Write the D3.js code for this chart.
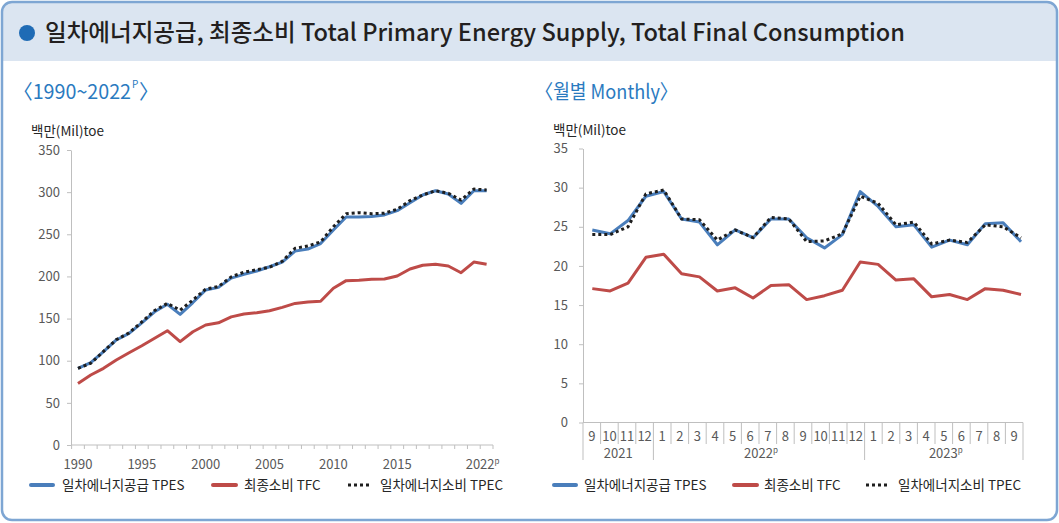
<!DOCTYPE html>
<html>
<head>
<meta charset="utf-8">
<script src="https://cdn.jsdelivr.net/npm/d3@7"></script>
<style>
    body { margin: 0; background: #fff; }
    svg { display: block; font-family: "Noto Sans CJK KR", "Liberation Sans", sans-serif; }
    .tick-label { font-size: 13px; fill: #595959; }
    .legend-label { font-size: 13.5px; fill: #262626; }
</style>
</head>
<body>
<svg id="chart" width="1059" height="523"></svg>
<script>
var years = [1990, 1991, 1992, 1993, 1994, 1995, 1996, 1997, 1998, 1999, 2000, 2001, 2002, 2003, 2004, 2005,
    2006, 2007, 2008, 2009, 2010, 2011, 2012, 2013, 2014, 2015, 2016, 2017, 2018, 2019, 2020, 2021, 2022];
var yearLabels = [1990, 1995, 2000, 2005, 2010, 2015];
var annualTPES = [91, 97.6, 110.7, 124.6, 132.5, 145, 158, 167, 155, 169, 184, 187, 198, 202.5, 206.4, 211.5,
    217, 230, 232.5, 239, 255, 270.5, 270.5, 271, 273, 278, 287.5, 296.6, 301.7, 297.8, 286.7, 301.7, 301.7];
var annualTFC = [73, 83, 91, 100.8, 109.5, 117.8, 126.6, 135.6, 122.6, 134.4, 142.4, 145, 152, 155.4, 157, 159.3,
    163.3, 168, 169.7, 170.5, 186, 195, 195.4, 196.6, 197, 200.5, 208.8, 213.2, 214.4, 212.4, 204.4, 217, 214.4];
var annualTPEC = [91, 97, 111, 125, 133, 146, 159.5, 168, 160, 172, 185, 188, 199.5, 205, 208, 211,
    218, 233.4, 236, 241, 259, 274.4, 275.6, 274.4, 275, 279.6, 290, 296.6, 301.7, 298.6, 290.6, 303.7, 302.5];
var annualTicks = [0, 50, 100, 150, 200, 250, 300, 350];

var months = ["2021-9", "2021-10", "2021-11", "2021-12", "2022-1", "2022-2", "2022-3", "2022-4", "2022-5",
    "2022-6", "2022-7", "2022-8", "2022-9", "2022-10", "2022-11", "2022-12", "2023-1", "2023-2", "2023-3",
    "2023-4", "2023-5", "2023-6", "2023-7", "2023-8", "2023-9"];
var monthGroups = [
    { label: "2021", sup: "", first: "2021-9", last: "2021-12" },
    { label: "2022", sup: "p", first: "2022-1", last: "2022-12" },
    { label: "2023", sup: "p", first: "2023-1", last: "2023-9" }
];
var monthlyTPES = [24.6, 24.1, 25.8, 28.9, 29.5, 26.0, 25.6, 22.7, 24.6, 23.6, 26.0, 26.0, 23.6, 22.3, 24.0,
    29.5, 27.6, 25.0, 25.25, 22.4, 23.3, 22.7, 25.4, 25.5, 23.1];
var monthlyTFC = [17.1, 16.8, 17.8, 21.1, 21.5, 19.0, 18.6, 16.8, 17.2, 15.9, 17.5, 17.6, 15.7, 16.2, 16.9,
    20.5, 20.2, 18.2, 18.35, 16.05, 16.35, 15.7, 17.1, 16.9, 16.35];
var monthlyTPEC = [24.0, 24.0, 25.0, 29.2, 29.7, 26.0, 25.9, 23.3, 24.6, 23.6, 26.2, 26.0, 23.1, 23.2, 24.1,
    28.9, 28.0, 25.25, 25.6, 22.8, 23.3, 23.0, 25.25, 25.0, 23.6];
var monthlyTicks = [0, 5, 10, 15, 20, 25, 30, 35];

var seriesStyle = [
    { name: "일차에너지공급 TPES", color: "#4a7ebb", dash: null },
    { name: "최종소비 TFC", color: "#be4b48", dash: null },
    { name: "일차에너지소비 TPEC", color: "#1e1e1e", dash: "3,3" }
];

var svg = d3.select("#chart");
var axisColor = "#bfbfbf";

// frame + title bar
svg.append("path")
    .attr("d", "M2,58 L2,12 Q2,2 12,2 L1047,2 Q1057,2 1057,12 L1057,61 L2,61 Z")
    .attr("fill", "#dbe5f1");
svg.append("rect")
    .attr("x", 2).attr("y", 2).attr("width", 1055).attr("height", 518)
    .attr("rx", 10).attr("ry", 10)
    .attr("fill", "none").attr("stroke", "#7ea6d3").attr("stroke-width", 2.5);
svg.append("circle").attr("cx", 27).attr("cy", 33).attr("r", 8).attr("fill", "#1f6bb5");
svg.append("text")
    .attr("x", 45).attr("y", 41)
    .attr("textLength", 860).attr("lengthAdjust", "spacingAndGlyphs")
    .style("font-size", "24px").style("font-weight", 500).attr("fill", "#231f20")
    .text("일차에너지공급, 최종소비 Total Primary Energy Supply, Total Final Consumption");

// subtitles: the superscript P sits in its own text so it never overlaps the digits
svg.append("text").attr("x", 13).attr("y", 99)
    .style("font-size", "20px").attr("fill", "#2a7abf")
    .attr("textLength", 118).attr("lengthAdjust", "spacingAndGlyphs")
    .text("〈1990~2022");
svg.append("text").attr("x", 132).attr("y", 88)
    .style("font-size", "10px").attr("fill", "#2a7abf").text("P");
svg.append("text").attr("x", 139).attr("y", 99)
    .style("font-size", "20px").attr("fill", "#2a7abf").text("〉");
svg.append("text").attr("x", 535).attr("y", 99)
    .style("font-size", "20px").attr("fill", "#2a7abf")
    .attr("textLength", 143).attr("lengthAdjust", "spacingAndGlyphs")
    .text("〈월별 Monthly〉");

function lineSet(g, x, y, data) {
    [data.tpes, data.tfc, data.tpec].forEach(function (values, i) {
        var st = seriesStyle[i];
        g.append("path")
            .datum(values)
            .attr("fill", "none")
            .attr("stroke", st.color)
            .attr("stroke-width", 3)
            .attr("stroke-linejoin", "round")
            .attr("stroke-dasharray", st.dash)
            .attr("d", d3.line()
                .x(function (d, j) { return x(data.cats[j]); })
                .y(function (d) { return y(d); }));
    });
}

function legend(positions) {
    positions.forEach(function (p, i) {
        var st = seriesStyle[i];
        svg.append("line")
            .attr("x1", p.x1).attr("x2", p.x2).attr("y1", 485).attr("y2", 485)
            .attr("stroke", st.color).attr("stroke-width", st.dash ? 3 : 4)
            .attr("stroke-linecap", st.dash ? "butt" : "round")
            .attr("stroke-dasharray", st.dash);
        svg.append("text").attr("class", "legend-label")
            .attr("x", p.tx).attr("y", 490).text(st.name);
    });
}

function yAxis(y, ticks, xPos, pad) {
    var g = svg.append("g").attr("transform", "translate(" + xPos + ",0)")
        .call(d3.axisLeft(y).tickValues(ticks).tickSize(4).tickPadding(pad).tickSizeOuter(0));
    g.select(".domain").attr("stroke", axisColor);
    g.selectAll(".tick line").attr("stroke", axisColor);
    g.selectAll(".tick text").attr("class", "tick-label")
        .style("font-family", null).style("font-size", null).attr("fill", null);
    g.attr("font-family", null).attr("font-size", null);
}

// ---------- annual ----------
var xA = d3.scaleBand().domain(years).range([71.6, 493]);
var xAc = function (d) { return xA(d) + xA.bandwidth() / 2; };
var yA = d3.scaleLinear().domain([0, 350]).range([445, 150]);

svg.append("text").attr("x", 31).attr("y", 136).style("font-size", "13.5px").attr("fill", "#262626")
    .text("백만(Mil)toe");
yAxis(yA, annualTicks, 71, 7);

var gA = svg.append("g");
gA.append("line").attr("x1", xA.range()[0]).attr("x2", xA.range()[1])
    .attr("y1", yA(0)).attr("y2", yA(0)).attr("stroke", axisColor);
gA.selectAll(".bt").data(years.concat(["end"])).enter().append("line")
    .attr("x1", function (d) { return d === "end" ? xA.range()[1] : xA(d); })
    .attr("x2", function (d) { return d === "end" ? xA.range()[1] : xA(d); })
    .attr("y1", yA(0)).attr("y2", yA(0) + 4).attr("stroke", axisColor);
gA.selectAll(".yl").data(yearLabels).enter().append("text")
    .attr("class", "tick-label").attr("text-anchor", "middle")
    .attr("x", xAc).attr("y", 469).text(function (d) { return d; });
var lastLab = gA.append("text").attr("class", "tick-label").attr("text-anchor", "middle")
    .attr("x", xAc(2022) - 4).attr("y", 469);
lastLab.append("tspan").text("2022");
lastLab.append("tspan").attr("dy", -5).style("font-size", "8px").text("p");

lineSet(svg.append("g"), xAc, yA, { cats: years, tpes: annualTPES, tfc: annualTFC, tpec: annualTPEC });
legend([{ x1: 31, x2: 53, tx: 62 }, { x1: 213, x2: 236, tx: 244 }, { x1: 348, x2: 369, tx: 380 }]);

// ---------- monthly ----------
var xM = d3.scaleBand().domain(months).range([583, 1023]);
var xMline = d3.scalePoint().domain(months).range([592.3, 1021]);
var yM = d3.scaleLinear().domain([0, 35]).range([422.5, 148.5]);

svg.append("text").attr("x", 553).attr("y", 135).style("font-size", "13.5px").attr("fill", "#262626")
    .text("백만(Mil)toe");
yAxis(yM, monthlyTicks, 583, 11);

var gM = svg.append("g");
gM.append("line").attr("x1", 583).attr("x2", 1023)
    .attr("y1", yM(0)).attr("y2", yM(0)).attr("stroke", axisColor);
var groupStarts = monthGroups.map(function (g) { return g.first; });
gM.selectAll(".mt").data(months.concat(["end"])).enter().append("line")
    .attr("x1", function (d) { return d === "end" ? 1023 : xM(d); })
    .attr("x2", function (d) { return d === "end" ? 1023 : xM(d); })
    .attr("y1", yM(0))
    .attr("y2", function (d) { return (d === "end" || groupStarts.indexOf(d) >= 0) ? 460 : 444; })
    .attr("stroke", axisColor);
gM.selectAll(".ml").data(months).enter().append("text")
    .attr("class", "tick-label").attr("text-anchor", "middle")
    .attr("x", function (d) { return xM(d) + xM.bandwidth() / 2; })
    .attr("y", 441)
    .text(function (d) { return d.split("-")[1]; });
monthGroups.forEach(function (g) {
    var cx = (xM(g.first) + xM(g.last) + xM.bandwidth()) / 2;
    var t = gM.append("text").attr("class", "tick-label").attr("text-anchor", "middle")
        .attr("x", cx + (g.sup ? 2 : 0)).attr("y", 458);
    t.append("tspan").text(g.label);
    if (g.sup) t.append("tspan").attr("dy", -5).style("font-size", "8px").text(g.sup);
});

lineSet(svg.append("g"), xMline, yM, { cats: months, tpes: monthlyTPES, tfc: monthlyTFC, tpec: monthlyTPEC });
legend([{ x1: 554, x2: 576, tx: 584 }, { x1: 734, x2: 757, tx: 764 }, { x1: 866, x2: 888, tx: 898 }]);
</script>
</body>
</html>
